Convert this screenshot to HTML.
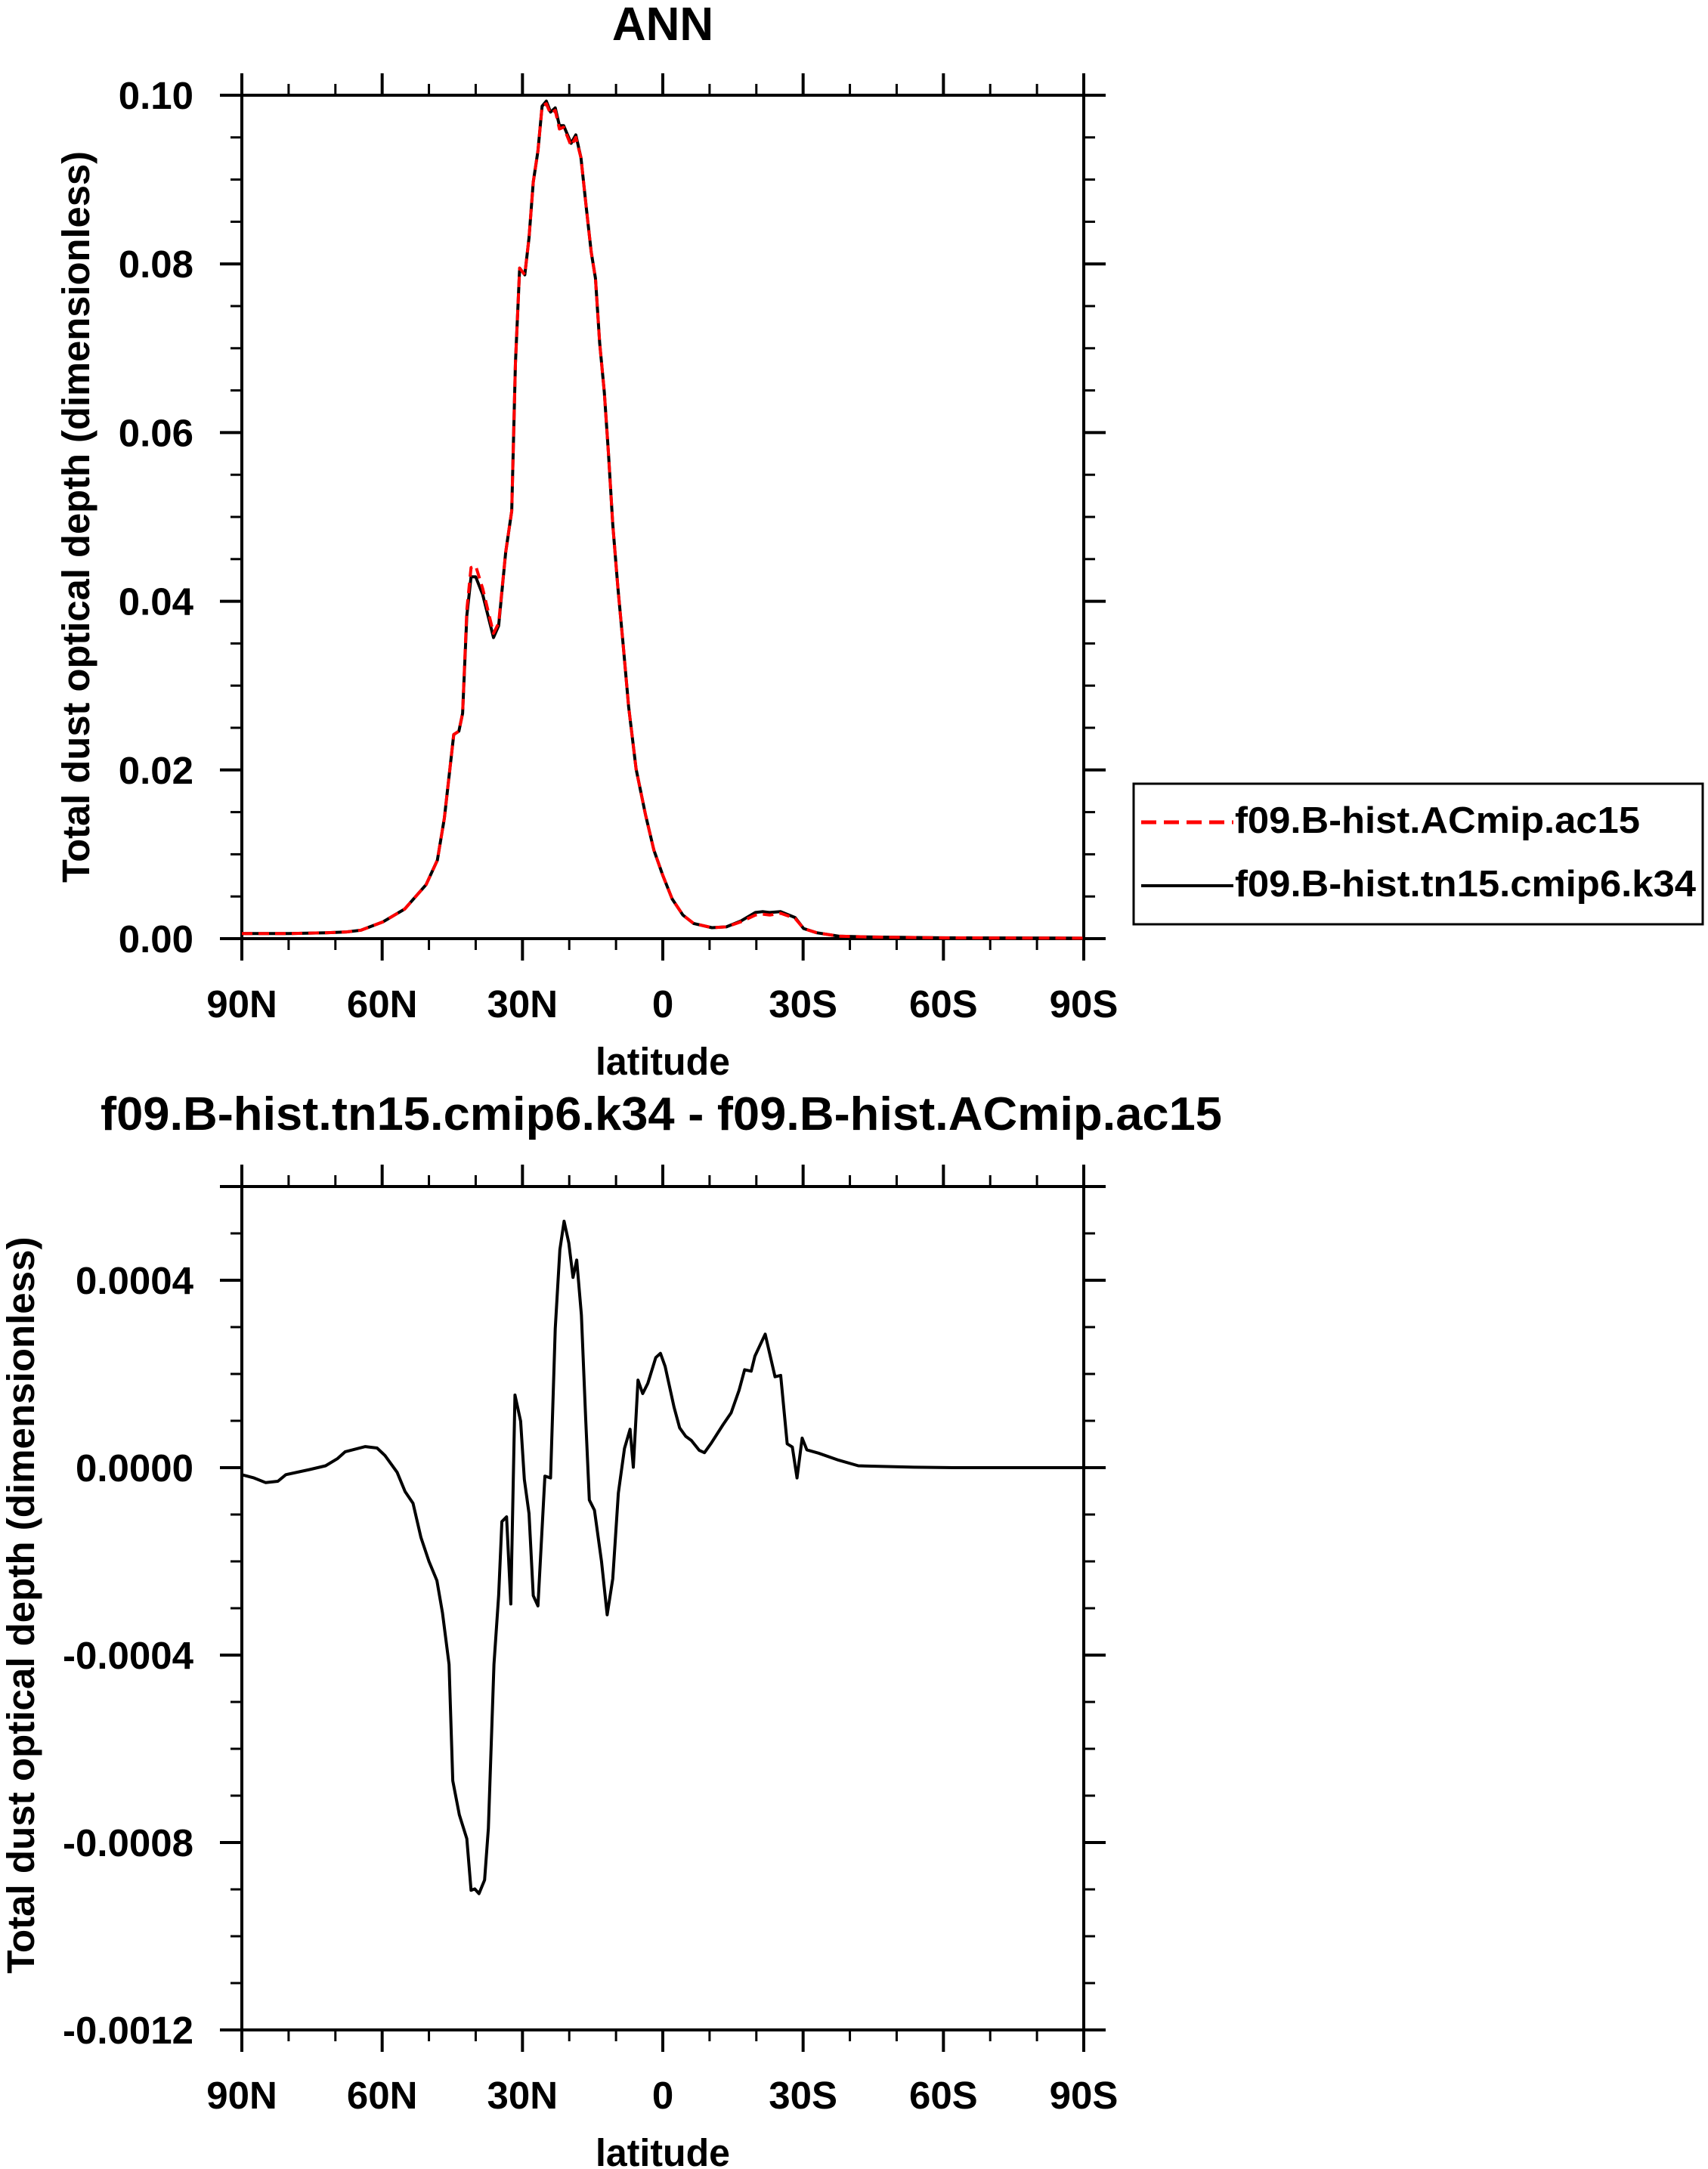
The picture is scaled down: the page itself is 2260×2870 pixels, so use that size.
<!DOCTYPE html>
<html><head><meta charset="utf-8"><style>
html,body{margin:0;padding:0;background:#fff;}
svg{display:block;}
text{font-family:"Liberation Sans",Arial,sans-serif;font-weight:bold;fill:#000;}
</style></head><body>
<svg id="chart" width="2260" height="2870" viewBox="0 0 2260 2870" xmlns="http://www.w3.org/2000/svg"></svg>
<script>
// ---- data ----
const latTop = [90,80,72,67.6,64.5,59.8,55.2,50.6,48.2,46.7,44.7,43.6,42.8,41.9,41,40,38.5,36.2,35.1,33.6,32.3,31.5,30.6,29.5,28.6,27.7,26.7,25.8,24.9,24,23,22.1,21.2,19.6,18.6,17.5,16.3,15.3,14.4,13.5,12.5,11.6,10.7,9.6,8.5,7.3,5.7,3.7,1.9,0,-2,-4.3,-6.6,-10.5,-13.6,-16.7,-19.8,-21.3,-22.9,-25.2,-28.3,-30.1,-32.9,-37.6,-43.8,-59,-90];
const seriesK34 = [0.0006,0.0006,0.0007,0.0008,0.001,0.002,0.0035,0.0064,0.0093,0.0143,0.0242,0.0246,0.0267,0.0383,0.0429,0.0429,0.0408,0.0357,0.0371,0.0458,0.0507,0.0682,0.0795,0.0787,0.0831,0.0897,0.0934,0.0987,0.0993,0.098,0.0985,0.0964,0.0964,0.0943,0.0953,0.0926,0.0864,0.0814,0.0783,0.0706,0.0648,0.0574,0.0491,0.0416,0.035,0.0275,0.0201,0.0147,0.0105,0.0075,0.0047,0.0028,0.0018,0.0013,0.0014,0.0021,0.0031,0.0032,0.0031,0.0032,0.0025,0.0012,0.0007,0.0003,0.0002,0.0001,0.00005];
const seriesAC15 = [0.0006,0.0006,0.0007,0.0008,0.001,0.002,0.0035,0.0064,0.0093,0.0143,0.0242,0.0246,0.0267,0.0390,0.0440,0.0442,0.0415,0.0362,0.0374,0.0458,0.0507,0.0682,0.0795,0.0787,0.0831,0.0897,0.0934,0.0987,0.0990,0.0978,0.0982,0.0960,0.0962,0.0940,0.0950,0.0926,0.0864,0.0814,0.0783,0.0706,0.0648,0.0574,0.0491,0.0416,0.035,0.0275,0.0201,0.0147,0.0105,0.0075,0.0047,0.0028,0.0018,0.0013,0.0014,0.0020,0.0028,0.0029,0.0028,0.0030,0.0024,0.0012,0.0007,0.0003,0.0002,0.0001,0.00005];
const latDiff = [90,87.4,84.9,82.3,80.6,75.5,72.1,69.6,67.9,63.6,61.1,59.4,56.8,55.1,53.4,51.7,50,48.3,47.1,45.7,44.9,43.5,41.9,41,40.2,39.3,38.1,37.3,36.1,35.1,34.4,33.4,32.5,31.6,30.4,29.6,28.6,27.7,26.7,25.2,24,23,22,21.1,20.1,19.2,18.4,17.4,16.5,15.7,14.6,13.1,11.9,10.7,9.5,8.2,7,6.3,5.3,4.3,3.2,1.5,0.5,-0.5,-2.4,-3.6,-4.9,-6.1,-7.8,-8.9,-10.4,-12.9,-14.6,-16.3,-17.5,-18.9,-19.7,-21.9,-24,-25.2,-26.6,-27.7,-28.7,-29.8,-30.8,-33.3,-37.6,-41.8,-53.7,-62.3,-90];
const seriesDiffE4 = [-0.15,-0.22,-0.32,-0.29,-0.15,-0.04,0.04,0.19,0.34,0.45,0.42,0.26,-0.10,-0.51,-0.76,-1.49,-2.00,-2.41,-3.10,-4.20,-6.68,-7.41,-7.92,-9.02,-8.99,-9.09,-8.80,-7.70,-4.20,-2.73,-1.15,-1.05,-2.91,1.55,0.99,-0.25,-0.98,-2.73,-2.95,-0.18,-0.22,2.97,4.65,5.26,4.80,4.06,4.43,3.26,1.07,-0.69,-0.91,-2.00,-3.14,-2.37,-0.54,0.41,0.82,0.01,1.87,1.58,1.80,2.35,2.44,2.16,1.29,0.85,0.67,0.58,0.37,0.32,0.53,0.92,1.17,1.65,2.09,2.06,2.38,2.85,1.94,1.97,0.51,0.44,-0.22,0.63,0.38,0.31,0.16,0.04,0.01,0,0];
const xTickVals = [90,60,30,0,-30,-60,-90];
const xTickLabels = ["90N","60N","30N","0","30S","60S","90S"];
const yTopTicks = [0,0.02,0.04,0.06,0.08,0.10];
const yTopLabels = ["0.00","0.02","0.04","0.06","0.08","0.10"];
const yDiffTicks = [-0.0012,-0.0008,-0.0004,0,0.0004];
const yDiffLabels = ["-0.0012","-0.0008","-0.0004","0.0000","0.0004"];

const NS="http://www.w3.org/2000/svg";
const svg=document.getElementById('chart');
function mk(tag,attrs,parent){const e=document.createElementNS(NS,tag);for(const k in attrs)e.setAttribute(k,attrs[k]);(parent||svg).appendChild(e);return e;}
function txt(s,attrs,parent){const e=mk('text',attrs,parent);e.textContent=s;return e;}

const L=320,R=1434;
function panel(top,bottom,ymin,ymax,yMinorStep,yTicks,yLabels,name){
  const g=mk('g',{});
  
  
  const xs=lat=>L+(90-lat)/180*(R-L);
  const ys=v=>bottom-(v-ymin)/(ymax-ymin)*(bottom-top);
  // minor x ticks
  for(let lat=90;lat>=-90;lat-=10){
    const x=xs(lat),maj=(lat%30===0);const len=maj?29:15;
    const t1=mk('line',{x1:x,y1:bottom,x2:x,y2:bottom+len,stroke:'#000','stroke-width':maj?4:3},g);
    
    
    mk('line',{x1:x,y1:top,x2:x,y2:top-len,stroke:'#000','stroke-width':maj?4:3},g);
  }
  const n=Math.round((ymax-ymin)/yMinorStep);
  for(let i=0;i<=n;i++){
    const v=ymin+i*yMinorStep;const y=ys(v);
    const maj=yTicks.some(t=>Math.abs(t-v)<yMinorStep/10)||i===n;const len=maj?29:15;
    const t2=mk('line',{x1:L,y1:y,x2:L-len,y2:y,stroke:'#000','stroke-width':maj?4:3},g);
    
    
    mk('line',{x1:R,y1:y,x2:R+len,y2:y,stroke:'#000','stroke-width':maj?4:3},g);
  }
  xTickVals.forEach((lat,i)=>{
    const t=txt(xTickLabels[i],{x:xs(lat),y:bottom+104,'font-size':51,'text-anchor':'middle'},g);
    
    
  });
  yTicks.forEach((v,i)=>{
    const t=txt(yLabels[i],{x:256,y:ys(v)+18,'font-size':51,'text-anchor':'end'},g);
    
    
  });
  const fr=mk('rect',{x:L,y:top,width:R-L,height:bottom-top,fill:'none',stroke:'#000','stroke-width':4},g);
  
  
  const xl=txt('latitude',{x:(L+R)/2,y:bottom+180,'font-size':51,'text-anchor':'middle',textLength:178,lengthAdjust:'spacingAndGlyphs'},g);
  
  
  return {g,xs,ys};
}
function line(p,lats,vals,scale,attrs,name){
  const d=lats.map((lat,i)=>(i?'L':'M')+p.xs(lat).toFixed(1)+','+p.ys(vals[i]*scale).toFixed(1)).join(' ');
  const e=mk('path',Object.assign({d:d,fill:'none','stroke-linejoin':'round'},attrs),p.g);
  
  
  return e;
}

// Top panel
const t1=txt('ANN',{x:877,y:53,'font-size':62,'text-anchor':'middle'});


const pTop=panel(126,1242,0,0.1,0.005,yTopTicks,yTopLabels,'top-panel');
line(pTop,latTop,seriesK34,1,{stroke:'#000','stroke-width':4},'line-tn15-cmip6-k34');
line(pTop,latTop,seriesAC15,1,{stroke:'#f00','stroke-width':4,'stroke-dasharray':'14,8'},'line-acmip-ac15');
const yt1=txt('Total dust optical depth (dimensionless)',{x:0,y:0,'font-size':51,'text-anchor':'middle',transform:'translate(118,684) rotate(-90)',textLength:968,lengthAdjust:'spacingAndGlyphs'});



// Legend
const lg=mk('g',{});


mk('rect',{x:1500,y:1037,width:753,height:186,fill:'#fff',stroke:'#000','stroke-width':3},lg);
const le1=mk('g',{},lg);


mk('line',{x1:1510,y1:1088,x2:1632,y2:1088,stroke:'#f00','stroke-width':5,'stroke-dasharray':'20,10'},le1);
txt('f09.B-hist.ACmip.ac15',{x:1634,y:1102,'font-size':49,textLength:536,lengthAdjust:'spacingAndGlyphs'},le1);
const le2=mk('g',{},lg);


mk('line',{x1:1510,y1:1172,x2:1632,y2:1172,stroke:'#000','stroke-width':4},le2);
txt('f09.B-hist.tn15.cmip6.k34',{x:1634,y:1186,'font-size':49,textLength:610,lengthAdjust:'spacingAndGlyphs'},le2);

// Bottom panel
const t2=txt('f09.B-hist.tn15.cmip6.k34 - f09.B-hist.ACmip.ac15',{x:875,y:1495,'font-size':62,'text-anchor':'middle',textLength:1484,lengthAdjust:'spacingAndGlyphs'});


const pBot=panel(1570,2686,-0.0012,0.0006,0.0001,yDiffTicks,yDiffLabels,'bottom-panel');
line(pBot,latDiff,seriesDiffE4,1e-4,{stroke:'#000','stroke-width':4},'line-difference');
const yt2=txt('Total dust optical depth (dimensionless)',{x:0,y:0,'font-size':51,'text-anchor':'middle',transform:'translate(45,2124) rotate(-90)',textLength:975,lengthAdjust:'spacingAndGlyphs'});


</script>
</body></html>
